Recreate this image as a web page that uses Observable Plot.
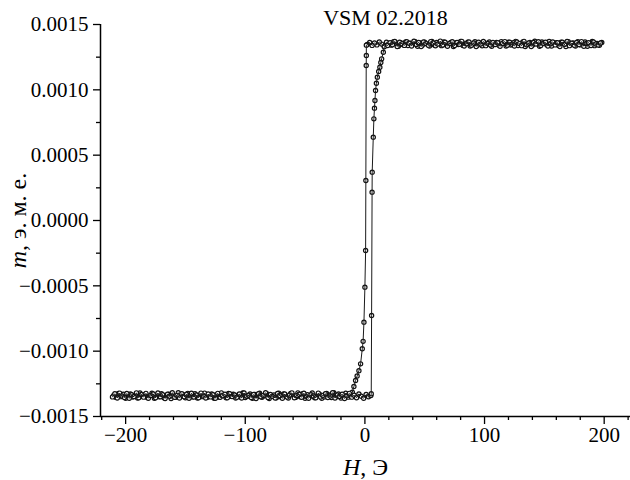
<!DOCTYPE html>
<html>
<head>
<meta charset="utf-8">
<script src="https://cdn.jsdelivr.net/npm/d3@7"></script>
<script src="https://cdn.jsdelivr.net/npm/@observablehq/plot@0.6"></script>
<style>
  html, body { margin: 0; padding: 0; background: white; }
  #chart { width: 630px; height: 480px; }
  #chart svg, #chart svg text { font-family: "Liberation Serif", "Times New Roman", serif !important; }
  #chart svg g[aria-label="x-axis label"] text, #chart svg g[aria-label="y-axis label"] text { font-size: 24px; }
</style>
</head>
<body>
<div id="chart"></div>
<script>
// ---- Data ----
const titleText = "VSM 02.2018";
const xLabelItalic = "H";
const xLabelRest = ", Э";
const yLabelItalic = "m";
const yLabelRest = ", э. м. е.";

const xDomain = [-221, 222];
const yDomain = [-0.0015, 0.0015];
const xMajorTicks = [-200, -100, 0, 100, 200];
const xMinorTicks = [-220, -180, -160, -140, -120, -80, -60, -40, -20, 20, 40, 60, 80, 120, 140, 160, 180, 220];
const yMajorTicks = [-0.0015, -0.0010, -0.0005, 0.0000, 0.0005, 0.0010, 0.0015];
const yMinorTicks = [-0.00125, -0.00075, -0.00025, 0.00025, 0.00075, 0.00125];

// Descending branch (field swept from +H to -H)
const descTopH = [198,196,194,192,190,188,186,184,182,180,178,176,174,172,170,168,166,164,162,160,
  158,156,154,152,150,148,146,144,142,140,138,136,134,132,130,128,126,124,122,120,
  118,116,114,112,110,108,106,104,102,100,98,96,94,92,90,88,86,84,82,80,
  78,76,74,72,70,68,66,64,62,60,58,56,54,52,50,48,46,44,42,40,
  38,36,34,32,30,28,26,24,22,20,18,16,14,12,10,8,6,4,2];
const descTopM = [0.001362,0.001341,0.001355,0.001338,0.001370,0.001349,0.001333,0.001366,0.001352,0.001344,
  0.001368,0.001336,0.001358,0.001347,0.001369,0.001331,0.001355,0.001364,0.001340,0.001361,
  0.001352,0.001335,0.001370,0.001345,0.001359,0.001366,0.001334,0.001354,0.001372,0.001341,
  0.001363,0.001348,0.001332,0.001367,0.001353,0.001339,0.001371,0.001360,0.001343,0.001365,
  0.001336,0.001357,0.001369,0.001342,0.001362,0.001350,0.001333,0.001366,0.001346,0.001361,
  0.001337,0.001356,0.001341,0.001368,0.001349,0.001335,0.001364,0.001353,0.001340,0.001371,
  0.001346,0.001358,0.001332,0.001363,0.001351,0.001344,0.001367,0.001338,0.001355,0.001362,
  0.001343,0.001370,0.001336,0.001352,0.001365,0.001341,0.001359,0.001334,0.001368,0.001348,
  0.001356,0.001339,0.001366,0.001345,0.001361,0.001333,0.001357,0.001369,0.001342,0.001354,
  0.001364,0.001337,0.001350,0.001367,0.001344,0.001358,0.001340,0.001362,0.001347];
const descTransH = [1.2,1.2,1.1,0.8,0.6,0.0,-0.8,-1.5,-2.2,-3.6,-5.0,-6.5,-7.8,-9.2,-10.5];
const descTransM = [0.001342,0.001263,0.001186,0.000306,-0.000230,-0.000510,-0.000778,-0.000925,-0.000982,-0.001097,-0.001150,-0.001190,-0.001224,-0.001270,-0.001314];
const descBotH = [-12,-14,-16,-18,-20,-22,-24,-26,-28,-30,-32,-34,-36,-38,-40,-42,-44,-46,-48,-50,
  -52,-54,-56,-58,-60,-62,-64,-66,-68,-70,-72,-74,-76,-78,-80,-82,-84,-86,-88,-90,
  -92,-94,-96,-98,-100,-102,-104,-106,-108,-110,-112,-114,-116,-118,-120,-122,-124,-126,-128,-130,
  -132,-134,-136,-138,-140,-142,-144,-146,-148,-150,-152,-154,-156,-158,-160,-162,-164,-166,-168,-170,
  -172,-174,-176,-178,-180,-182,-184,-186,-188,-190,-192,-194,-196,-198,-200,-202,-204,-206,-208,-210];
const descBotM = [-0.001331,-0.001352,-0.001322,-0.001345,-0.001359,-0.001327,-0.001348,-0.001318,-0.001355,-0.001336,
  -0.001324,-0.001350,-0.001361,-0.001329,-0.001341,-0.001357,-0.001320,-0.001347,-0.001333,-0.001360,
  -0.001326,-0.001349,-0.001319,-0.001354,-0.001338,-0.001323,-0.001358,-0.001344,-0.001328,-0.001351,
  -0.001321,-0.001356,-0.001335,-0.001346,-0.001362,-0.001325,-0.001342,-0.001353,-0.001322,-0.001349,
  -0.001332,-0.001360,-0.001327,-0.001345,-0.001355,-0.001320,-0.001351,-0.001337,-0.001358,-0.001330,
  -0.001346,-0.001324,-0.001357,-0.001339,-0.001319,-0.001352,-0.001334,-0.001361,-0.001328,-0.001343,
  -0.001354,-0.001321,-0.001348,-0.001336,-0.001359,-0.001326,-0.001350,-0.001340,-0.001323,-0.001356,
  -0.001333,-0.001347,-0.001318,-0.001353,-0.001338,-0.001362,-0.001329,-0.001344,-0.001357,-0.001325,
  -0.001349,-0.001335,-0.001360,-0.001322,-0.001341,-0.001355,-0.001331,-0.001346,-0.001320,-0.001358,
  -0.001337,-0.001351,-0.001327,-0.001343,-0.001361,-0.001330,-0.001348,-0.001324,-0.001354,-0.001339];

// Ascending branch (field swept from -H to +H)
const ascBotH = [-211,-209,-207,-205,-203,-201,-199,-197,-195,-193,-191,-189,-187,-185,-183,-181,-179,-177,-175,-173,
  -171,-169,-167,-165,-163,-161,-159,-157,-155,-153,-151,-149,-147,-145,-143,-141,-139,-137,-135,-133,
  -131,-129,-127,-125,-123,-121,-119,-117,-115,-113,-111,-109,-107,-105,-103,-101,-99,-97,-95,-93,
  -91,-89,-87,-85,-83,-81,-79,-77,-75,-73,-71,-69,-67,-65,-63,-61,-59,-57,-55,-53,
  -51,-49,-47,-45,-43,-41,-39,-37,-35,-33,-31,-29,-27,-25,-23,-21,-19,-17,-15,-13,
  -11,-9,-7,-5,-3,-1,1,3];
const ascBotM = [-0.001350,-0.001326,-0.001358,-0.001321,-0.001343,-0.001354,-0.001324,-0.001361,-0.001334,-0.001347,
  -0.001319,-0.001356,-0.001331,-0.001352,-0.001323,-0.001360,-0.001340,-0.001327,-0.001357,-0.001320,
  -0.001349,-0.001333,-0.001362,-0.001329,-0.001345,-0.001318,-0.001353,-0.001338,-0.001359,-0.001325,
  -0.001348,-0.001330,-0.001361,-0.001322,-0.001351,-0.001336,-0.001356,-0.001321,-0.001344,-0.001358,
  -0.001328,-0.001350,-0.001334,-0.001360,-0.001323,-0.001353,-0.001341,-0.001329,-0.001357,-0.001326,
  -0.001347,-0.001335,-0.001352,-0.001327,-0.001359,-0.001320,-0.001345,-0.001337,-0.001355,-0.001332,
  -0.001362,-0.001325,-0.001349,-0.001339,-0.001318,-0.001354,-0.001331,-0.001346,-0.001358,-0.001324,
  -0.001342,-0.001361,-0.001328,-0.001351,-0.001336,-0.001319,-0.001356,-0.001340,-0.001330,-0.001353,
  -0.001322,-0.001348,-0.001360,-0.001333,-0.001344,-0.001357,-0.001321,-0.001350,-0.001338,-0.001326,
  -0.001355,-0.001343,-0.001318,-0.001359,-0.001335,-0.001347,-0.001329,-0.001362,-0.001341,-0.001323,
  -0.001352,-0.001337,-0.001356,-0.001327,-0.001345,-0.001360,-0.001332,-0.001349];
const ascTransH = [5.0,5.3,5.6,6.0,6.1,7.0,7.5,8.0,8.4,8.9,9.6,10.4,11.5,12.5,13.3,14.0,15.4,16.2];
const ascTransM = [-0.001340,-0.001326,-0.000727,0.000217,0.000370,0.000638,0.000778,0.000860,0.000918,0.000995,0.001050,0.001097,0.001140,0.001173,0.001210,0.001237,0.001288,0.001330];
const ascTopH = [19,21,23,25,27,29,31,33,35,37,39,41,43,45,47,49,51,53,55,57,
  59,61,63,65,67,69,71,73,75,77,79,81,83,85,87,89,91,93,95,97,
  99,101,103,105,107,109,111,113,115,117,119,121,123,125,127,129,131,133,135,137,
  139,141,143,145,147,149,151,153,155,157,159,161,163,165,167,169,171,173,175,177,
  179,181,183,185,187,189,191,193,195,197];
const ascTopM = [0.001339,0.001361,0.001345,0.001370,0.001332,0.001364,0.001352,0.001340,0.001368,0.001357,
  0.001335,0.001372,0.001347,0.001363,0.001331,0.001366,0.001354,0.001342,0.001369,0.001358,
  0.001337,0.001351,0.001373,0.001344,0.001365,0.001334,0.001356,0.001368,0.001339,0.001362,
  0.001348,0.001371,0.001336,0.001353,0.001367,0.001341,0.001359,0.001332,0.001365,0.001350,
  0.001370,0.001338,0.001355,0.001343,0.001363,0.001346,0.001360,0.001333,0.001357,0.001369,
  0.001341,0.001364,0.001349,0.001336,0.001366,0.001354,0.001338,0.001371,0.001345,0.001359,
  0.001332,0.001362,0.001351,0.001368,0.001340,0.001356,0.001364,0.001335,0.001353,0.001367,
  0.001344,0.001360,0.001331,0.001365,0.001349,0.001370,0.001338,0.001357,0.001342,0.001363,
  0.001347,0.001369,0.001334,0.001355,0.001361,0.001339,0.001366,0.001350,0.001343,0.001358];

// ---- Build tables ----
function zip(hs, ms, branch) { return hs.map((h, i) => ({H: h, m: ms[i], branch})); }
const desc = [...zip(descTopH, descTopM, "desc"), ...zip(descTransH, descTransM, "desc"), ...zip(descBotH, descBotM, "desc")];
const asc = [...zip(ascBotH, ascBotM, "asc"), ...zip(ascTransH, ascTransM, "asc"), ...zip(ascTopH, ascTopM, "asc")];
const all = [...desc, ...asc];

const serif = "'Liberation Serif', 'Times New Roman', serif";
const blank = () => "";

const chart = Plot.plot({
  width: 630,
  height: 480,
  marginLeft: 100,
  marginRight: 0,
  marginTop: 24,
  marginBottom: 64,
  style: {fontFamily: serif, fontSize: "21px", color: "black", background: "white", overflow: "visible"},
  x: {domain: xDomain},
  y: {domain: yDomain},
  marks: [
    Plot.dot(all, {x: "H", y: "m", r: 2.1, stroke: "#111", strokeWidth: 1.2, fill: "white"}),
    Plot.line(desc, {x: "H", y: "m", stroke: "#1a1a1a", strokeWidth: 1}),
    Plot.line(asc, {x: "H", y: "m", stroke: "#1a1a1a", strokeWidth: 1}),
    // minor ticks
    Plot.axisX({ticks: xMinorTicks, tickSize: 4, tickFormat: blank, label: null, strokeWidth: 1.3}),
    Plot.axisY({ticks: yMinorTicks, tickSize: 4, tickFormat: blank, label: null, strokeWidth: 1.3}),
    // major ticks
    Plot.axisX({ticks: xMajorTicks, tickSize: 8, tickPadding: 3, strokeWidth: 1.3,
      tickFormat: d3.format("d"), label: xLabelItalic + xLabelRest, labelAnchor: "center", labelOffset: 58}),
    Plot.axisY({ticks: yMajorTicks, tickSize: 7, tickPadding: 5, strokeWidth: 1.3,
      tickFormat: d3.format(".4f"), label: yLabelItalic + yLabelRest, labelAnchor: "center", labelOffset: 92}),
    // axis lines
    Plot.ruleY([yDomain[0]], {stroke: "black", strokeWidth: 1.5}),
    Plot.ruleX([xDomain[0]], {stroke: "black", strokeWidth: 1.5}),
    // title
    Plot.text([titleText], {frameAnchor: "top", lineAnchor: "middle", dx: 20, dy: -7, fontSize: 22, fill: "black"})
  ]
});

// italicise the variable symbols in the axis labels
function styleLabel(sel, ital, rest) {
  const t = chart.querySelector(sel);
  if (!t) return;
  t.textContent = "";
  const ns = "http://www.w3.org/2000/svg";
  const a = document.createElementNS(ns, "tspan");
  a.setAttribute("font-style", "italic");
  a.textContent = ital;
  const b = document.createElementNS(ns, "tspan");
  b.textContent = rest;
  t.appendChild(a); t.appendChild(b);
}
styleLabel('g[aria-label="x-axis label"] text', xLabelItalic, xLabelRest);
styleLabel('g[aria-label="y-axis label"] text', yLabelItalic, yLabelRest);

document.getElementById("chart").appendChild(chart);
</script>
</body>
</html>
